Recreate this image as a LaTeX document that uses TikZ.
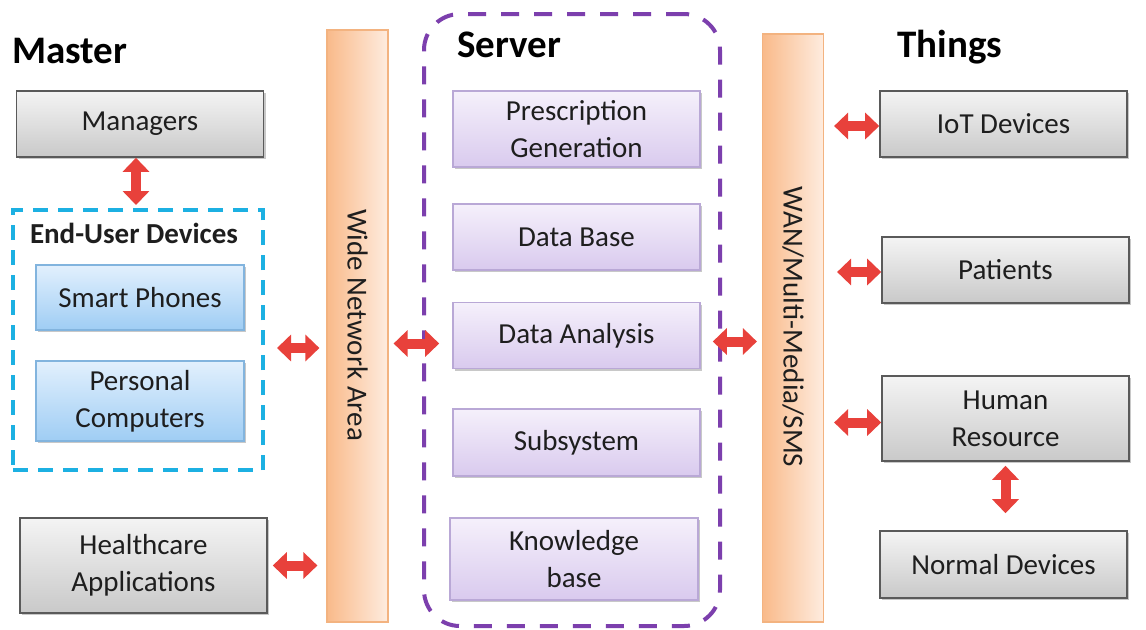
\documentclass[tikz,border=0pt]{standalone}
\usepackage{fontspec}
\setmainfont{Carlito}
\usetikzlibrary{arrows.meta,shadows}

\definecolor{txt}{HTML}{1E1E1E}
\definecolor{greyT}{HTML}{F4F4F4}
\definecolor{greyB}{HTML}{C9C9C9}
\definecolor{greyD}{HTML}{5A5A5A}
\definecolor{blueT}{HTML}{E2F0FD}
\definecolor{blueB}{HTML}{9FCDF4}
\definecolor{blueD}{HTML}{82B4DE}
\definecolor{purT}{HTML}{F5F0FB}
\definecolor{purB}{HTML}{D9CAEE}
\definecolor{purD}{HTML}{B9A8D6}
\definecolor{orL}{HTML}{F9BA8A}
\definecolor{orR}{HTML}{FEECDF}
\definecolor{orD}{HTML}{F3B380}
\definecolor{cyanD}{HTML}{1CB0E2}
\definecolor{purpD}{HTML}{7C3FAD}
\definecolor{arrowred}{HTML}{E8413B}

\newcommand{\bodyfont}{\fontsize{14.5}{18.5}\selectfont}
\newcommand{\headfont}{\fontsize{19.5}{23}\selectfont\bfseries}

\begin{document}
\begin{tikzpicture}[x=0.5pt,y=-0.5pt,
  box/.style={line width=0.8pt, align=center, font=\bodyfont, text=txt,
    inner sep=2pt, minimum width=123.5pt,
    drop shadow={shadow xshift=1.2pt, shadow yshift=-1.2pt, opacity=0.3, fill=black!70}},
  greybox/.style={box, draw=greyD, top color=greyT, bottom color=greyB},
  bluebox/.style={box, draw=blueD, top color=blueT, bottom color=blueB, minimum width=104pt},
  purbox/.style={box, draw=purD, top color=purT, bottom color=purB},
  bar/.style={draw=orD, line width=0.6pt, left color=orL, right color=orR,
    minimum width=30.5pt, font=\bodyfont, text=txt},
  head/.style={font=\headfont, text=black, anchor=base west, inner sep=0pt},
  fat/.style={draw=arrowred, line width=5pt,
    {Triangle[width=13pt,length=7pt]}-{Triangle[width=13pt,length=7pt]}},
]
\useasboundingbox (0,0) rectangle (1146,629);
\fill[white] (0,0) rectangle (1146,629);

% ---- Master column ----
\node[head] (tmaster) at (12,63) {Master};
\node[greybox, minimum height=33pt] (mgr) at (140,124) {Managers};
\node[draw=cyanD, line width=2pt, dash pattern=on 7.5pt off 5pt,
  minimum width=125pt, minimum height=130pt] (eud) at (138,340) {};
\node[font=\bodyfont\bfseries, text=txt, anchor=base] (teud) at (134,243) {End-User Devices};
\node[bluebox, minimum height=32.5pt] (sp) at (140,297.5) {Smart Phones};
\node[bluebox, minimum height=40pt] (pc) at (140,401) {Personal\\Computers};
\node[greybox, minimum height=47.5pt] (hc) at (143.5,565.5) {Healthcare\\Applications};

% ---- network bars ----
\node[bar, minimum height=296pt] (wna) at (357.5,326) {};
\node[rotate=-90, font=\bodyfont, text=txt] (twna) at (357.5,325) {Wide Network Area};
\node[bar, minimum height=294pt] (wan) at (793,328) {};
\node[rotate=-90, font=\bodyfont, text=txt] (twan) at (793,327) {WAN/Multi-Media/SMS};

% ---- Server ----
\node[draw=purpD, line width=2pt, dash pattern=on 9pt off 7.5pt, rounded corners=18pt,
  minimum width=148pt, minimum height=306pt] (srv) at (572,320) {};
\node[head] (tserver) at (457,57) {Server};
\node[purbox, minimum height=38pt] (pg) at (576.5,129) {Prescription\\Generation};
\node[purbox, minimum height=33pt] (db) at (576.5,237) {Data Base};
\node[purbox, minimum height=33pt] (da) at (576.5,335.5) {Data Analysis};
\node[purbox, minimum height=33.5pt] (ss) at (576.5,442.5) {Subsystem};
\node[purbox, minimum height=41pt, minimum width=124pt] (kb) at (574,559) {Knowledge\\base};

% ---- Things column ----
\node[head] (tthings) at (897,57) {Things};
\node[greybox, minimum height=33pt] (iot) at (1003.5,124) {IoT Devices};
\node[greybox, minimum height=33pt] (pat) at (1005.5,270) {Patients};
\node[greybox, minimum height=42.5pt] (hr) at (1005.5,418.5) {Human\\Resource};
\node[greybox, minimum height=33.5pt] (nd) at (1003.5,564.5) {Normal Devices};

% ---- connectors ----
\draw[fat, shorten >=1.5pt] ([xshift=-2pt]mgr.south) -- ([xshift=-2pt]mgr.south |- eud.north);
\draw[fat, shorten <=6pt, shorten >=3.5pt] ([yshift=-4pt]eud.east) -- ([yshift=-4pt]eud.east -| wna.west);
\draw[fat, shorten <=2.5pt, shorten >=4.5pt] (hc.east) -- (hc.east -| wna.west);
\draw[fat, shorten <=2.5pt, shorten >=6.5pt] ([yshift=-4pt]da.west -| wna.east) -- ([yshift=-4pt]da.west);
\draw[fat, shorten <=6pt, shorten >=2.5pt] ([yshift=-3pt]da.east) -- ([yshift=-3pt]da.east -| wan.west);
\draw[fat, shorten <=5pt] ([yshift=-1pt]iot.west -| wan.east) -- ([yshift=-1pt]iot.west);
\draw[fat, shorten <=6.5pt] ([yshift=-1pt]pat.west -| wan.east) -- ([yshift=-1pt]pat.west);
\draw[fat, shorten <=5pt] ([yshift=-2pt]hr.west -| wan.east) -- ([yshift=-2pt]hr.west);
\draw[fat, shorten <=2pt, shorten >=8.5pt] (hr.south) -- (hr.south |- nd.north);
\end{tikzpicture}
\end{document}
